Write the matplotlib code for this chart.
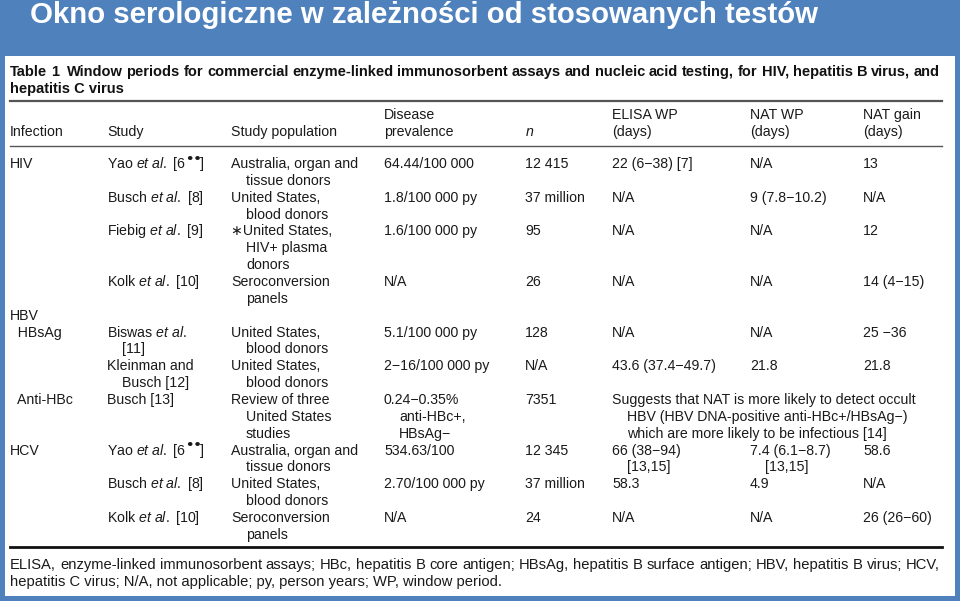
import matplotlib
matplotlib.use('Agg')
from matplotlib import pyplot as plt
from matplotlib.patches import Rectangle
from matplotlib.lines import Line2D

plt.rcParams['font.family'] = ['Liberation Sans', 'DejaVu Sans']
plt.rcParams['mathtext.fontset'] = 'custom'
plt.rcParams['mathtext.rm'] = 'Liberation Sans'
plt.rcParams['mathtext.it'] = 'Liberation Sans:italic'
plt.rcParams['mathtext.bf'] = 'Liberation Sans:bold'

slide_title = 'Okno serologiczne w zależności od stosowanych testów'
caption = ['Table 1  Window periods for commercial enzyme-linked immunosorbent assays and nucleic acid testing, for HIV, hepatitis B virus, and',
           'hepatitis C virus']
headers = ['Infection', 'Study', 'Study population', 'Disease\nprevalence', '$\\it{n}$',
           'ELISA WP\n(days)', 'NAT WP\n(days)', 'NAT gain\n(days)']

ET = '$\\it{et\\ al.}$'

infection = ['HIV', '', '', '', 'HBV', '  HBsAg', '', '  Anti-HBc', 'HCV', '', '']
study = ['Yao ' + ET + ' [6••]', 'Busch ' + ET + ' [8]', 'Fiebig ' + ET + ' [9]',
         'Kolk ' + ET + ' [10]', '', 'Biswas ' + ET + '\n[11]', 'Kleinman and\nBusch [12]',
         'Busch [13]', 'Yao ' + ET + ' [6••]', 'Busch ' + ET + ' [8]', 'Kolk ' + ET + ' [10]']
population = ['Australia, organ and\ntissue donors', 'United States,\nblood donors',
              '∗United States,\nHIV+ plasma\ndonors', 'Seroconversion\npanels', '',
              'United States,\nblood donors', 'United States,\nblood donors',
              'Review of three\nUnited States\nstudies', 'Australia, organ and\ntissue donors',
              'United States,\nblood donors', 'Seroconversion\npanels']
prevalence = ['64.44/100 000', '1.8/100 000 py', '1.6/100 000 py', 'N/A', '',
              '5.1/100 000 py', '2−16/100 000 py', '0.24−0.35%\nanti-HBc+,\nHBsAg−',
              '534.63/100', '2.70/100 000 py', 'N/A']
n_vals = ['12 415', '37 million', '95', '26', '', '128', 'N/A', '7351', '12 345', '37 million', '24']
elisa_wp = ['22 (6−38) [7]', 'N/A', 'N/A', 'N/A', '', 'N/A', '43.6 (37.4−49.7)',
            'Suggests that NAT is more likely to detect occult\nHBV (HBV DNA-positive anti-HBc+/HBsAg−)\nwhich are more likely to be infectious [14]',
            '66 (38−94)\n[13,15]', '58.3', 'N/A']
nat_wp = ['N/A', '9 (7.8−10.2)', 'N/A', 'N/A', '', 'N/A', '21.8', '', '7.4 (6.1−8.7)\n[13,15]', '4.9', 'N/A']
nat_gain = ['13', 'N/A', '12', '14 (4−15)', '', '25 −36', '21.8', '', '58.6', 'N/A', '26 (26−60)']
footnote = ['ELISA, enzyme-linked immunosorbent assays; HBc, hepatitis B core antigen; HBsAg, hepatitis B surface antigen; HBV, hepatitis B virus; HCV,',
            'hepatitis C virus; N/A, not applicable; py, person years; WP, window period.']

W, H = 960, 601
col_x = [10, 107, 231, 384, 525, 612, 750, 863]
indent = 15
line_h = 16.86
y0 = 164
fs = 10.2
tcol = '#1a1a1a'

fig = plt.figure(figsize=(9.6, 6.01), dpi=100)
fig.patch.set_facecolor('#4f81bd')
renderer = fig.canvas.get_renderer()


def px(x, y):
    return x / W, 1 - y / H


def put(x, y, s, **kw):
    kw.setdefault('fontsize', fs)
    kw.setdefault('color', tcol)
    return fig.text(*px(x, y), s, va='center', ha='left', **kw)


def width(a):
    return a.get_window_extent(renderer).width


def put_cell(x, y, s):
    # the two superscript bullets after a reference number are drawn as a raised piece
    if '••' not in s:
        put(x, y, s)
        return
    head, tail = s.split('••')
    a = put(x, y, head)
    x += width(a) - 1.5
    b = put(x, y - 5, '••', fontsize=9.5, fontweight='bold', family='DejaVu Sans')
    x += width(b) - 1.5
    put(x, y, tail)


def put_justified(x1, x2, y, s, **kw):
    # spread the words so the line fills x1..x2, like the printed table
    words = s.split(' ')
    arts = [put(0, y, w, **kw) for w in words]
    widths = [width(a) for a in arts]
    gap = (x2 - x1 - sum(widths)) / (len(words) - 1)
    x = x1
    for a, w in zip(arts, widths):
        a.set_position(px(x, y))
        x += w + gap


def hline(x1, x2, y, lw, c):
    fig.add_artist(Line2D([x1 / W, x2 / W], [1 - y / H, 1 - y / H], lw=lw, color=c))


fig.add_artist(Rectangle(px(5, 596), 950 / W, 540 / H, facecolor='white', edgecolor='none'))
fig.text(*px(30, 15), slide_title, fontsize=21.2, fontweight='bold', color='white', va='center', ha='left')

put_justified(10, 940, 72, caption[0], fontsize=10.5, fontweight='bold', color='#111111')
put(10, 89, caption[1], fontsize=10.5, fontweight='bold', color='#111111')
hline(10, 942, 100.5, 1.6, '#555555')

for x, h in zip(col_x, headers):
    parts = h.split('\n')
    for k, p in enumerate(parts):
        put(x, 132 - (len(parts) - 1 - k) * line_h, p)
hline(10, 942, 146, 1.0, '#555555')

cols = [infection, study, population, prevalence, n_vals, elisa_wp, nat_wp, nat_gain]
line = 0
for r in range(len(infection)):
    nmax = 1
    for ci, col in enumerate(cols):
        parts = col[r].split('\n') if col[r] else []
        nmax = max(nmax, len(parts))
        for k, p in enumerate(parts):
            x = col_x[ci] + (indent if k > 0 else 0)
            put_cell(x, y0 + (line + k) * line_h, p)
    line += nmax

hline(10, 942, 547, 2.0, '#111111')
put_justified(10, 940, 565, footnote[0], fontsize=10.6)
put(10, 582, footnote[1], fontsize=10.6)

plt.savefig('out.png', dpi=100, facecolor=fig.get_facecolor())
